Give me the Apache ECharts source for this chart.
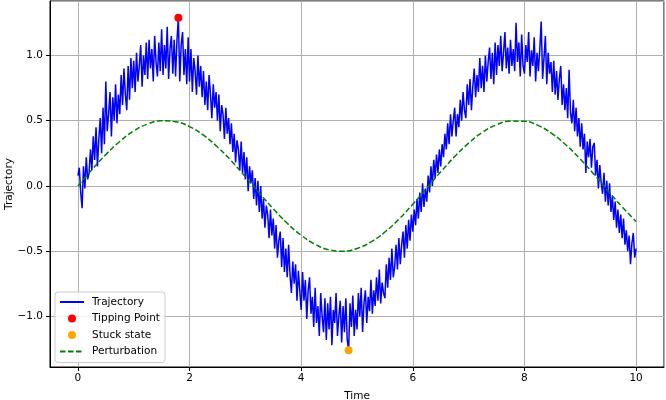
<!DOCTYPE html>
<html>
<head>
<meta charset="utf-8">
<script src="https://cdn.jsdelivr.net/npm/echarts@6/dist/echarts.min.js"></script>
<style>
html,body{margin:0;padding:0;background:#fff;}
#chart{width:666px;height:400px;}
</style>
</head>
<body>
<div id="chart"></div>
<script>
// Trajectory sampled every 0.025 time units from t = 0 to t = 10
const trajectoryStep = 0.025;
const trajectory = [
 0.08, 0.14,-0.05,-0.17, 0.15,-0.02, 0.22, 0.05, 0.10, 0.28,
 0.12, 0.38, 0.20, 0.45, 0.15, 0.36, 0.52, 0.25, 0.60, 0.32,
 0.80, 0.42, 0.55, 0.72, 0.38, 0.68, 0.50, 0.78, 0.48, 0.70,
 0.55, 0.85, 0.62, 0.90, 0.70, 0.58, 0.92, 0.66, 0.98, 0.75,
 0.96, 0.72, 1.02, 0.80, 0.92, 1.08, 0.76, 1.00, 0.85, 1.10,
 0.82, 1.12, 0.90, 1.05, 0.80, 1.15, 0.95, 0.84, 1.10, 0.88,
 1.20, 0.85, 1.08, 0.90, 1.22, 0.82, 1.05, 1.15, 0.86, 1.12,
 0.84, 1.12, 1.29, 0.80, 1.08, 1.18, 0.85, 1.05, 0.78, 1.14,
 0.80, 1.05, 0.72, 0.98, 0.88, 0.70, 1.00, 0.76, 0.92, 0.68,
 0.88, 0.62, 0.80, 0.58, 0.85, 0.70, 0.52, 0.78, 0.60, 0.72,
 0.50, 0.70, 0.42, 0.62, 0.55, 0.36, 0.60, 0.40, 0.52, 0.32,
 0.48, 0.26, 0.40, 0.18, 0.35, 0.28, 0.12, 0.34, 0.10, 0.26,
 0.05, 0.22,-0.04, 0.15, 0.02, 0.12,-0.10, 0.06,-0.15, 0.04,
-0.20, 0.00,-0.25,-0.10,-0.32,-0.15,-0.22,-0.40,-0.18,-0.38,
-0.25,-0.48,-0.30,-0.55,-0.42,-0.35,-0.62,-0.40,-0.66,-0.48,
-0.70,-0.45,-0.68,-0.82,-0.58,-0.75,-0.60,-0.88,-0.65,-0.80,
-0.95,-0.66,-0.88,-0.72,-1.02,-0.80,-0.70,-0.98,-0.85,-1.08,
-0.78,-1.05,-0.92,-1.15,-0.82,-1.00,-1.12,-0.86,-1.18,-0.90,
-1.10,-0.85,-1.22,-0.95,-1.05,-0.82,-1.15,-1.00,-0.88,-1.20,
-0.92,-1.12,-0.86,-1.18,-1.26,-0.90,-1.08,-0.84,-1.15,-0.95,
-1.10,-0.82,-1.00,-0.78,-1.12,-0.90,-0.80,-1.05,-0.85,-0.96,
-0.72,-0.98,-0.80,-0.92,-0.70,-0.88,-0.64,-0.90,-0.74,-0.82,
-0.86,-0.60,-0.78,-0.55,-0.72,-0.48,-0.70,-0.62,-0.45,-0.64,
-0.40,-0.60,-0.45,-0.35,-0.55,-0.30,-0.48,-0.26,-0.42,-0.22,
-0.35,-0.18,-0.30,-0.10,-0.25,-0.05,-0.20, 0.02,-0.16,-0.02,
-0.12, 0.08,-0.05, 0.15, 0.00, 0.20, 0.06, 0.24, 0.10, 0.28,
 0.15, 0.32, 0.22, 0.40, 0.28, 0.48, 0.32, 0.55, 0.38, 0.50,
 0.60, 0.38, 0.55, 0.45, 0.66, 0.50, 0.72, 0.58, 0.52, 0.78,
 0.62, 0.82, 0.58, 0.76, 0.90, 0.68, 0.85, 0.72, 0.98, 0.75,
 0.92, 0.72, 1.00, 0.80, 0.95, 1.06, 0.82, 1.02, 0.78, 1.10,
 0.85, 1.08, 0.92, 1.15, 0.88, 1.02, 1.18, 0.90, 1.06, 0.86,
 1.12, 0.92, 1.05, 0.88, 1.25, 0.95, 1.10, 0.84, 1.16, 0.92,
 0.86, 1.08, 0.95, 1.18, 0.84, 1.04, 0.92, 1.14, 0.80, 1.02,
 0.88, 1.05, 1.26, 0.82, 0.98, 1.15, 0.78, 1.02, 0.86, 0.95,
 0.72, 0.96, 0.70, 0.88, 0.66, 0.82, 0.92, 0.62, 0.78, 0.58,
 0.75, 0.52, 0.89, 0.56, 0.48, 0.66, 0.42, 0.60, 0.38, 0.52,
 0.30, 0.48, 0.28, 0.40, 0.10, 0.34, 0.22, 0.36, 0.14, 0.30,
 0.33, 0.08, 0.20,-0.02, 0.16, 0.02,-0.06, 0.10,-0.12, 0.04,
-0.15, 0.02,-0.20,-0.08,-0.26,-0.12,-0.32,-0.18,-0.36,-0.22,
-0.40,-0.25,-0.45,-0.34,-0.50,-0.38,-0.60,-0.44,-0.36,-0.55,
-0.48
];
// Perturbation sampled every 0.25 time units from t = 0 to t = 10
const perturbationStep = 0.25;
const perturbation = [
 0.000, 0.124, 0.240, 0.341, 0.421, 0.474, 0.499, 0.492, 0.455, 0.389,
 0.299, 0.191, 0.071,-0.054,-0.175,-0.286,-0.378,-0.447,-0.489,-0.500,
-0.479,-0.429,-0.353,-0.255,-0.140,-0.017, 0.108, 0.225, 0.328, 0.412,
 0.469, 0.497, 0.495, 0.462, 0.399, 0.312, 0.206, 0.087,-0.038,-0.160,
-0.272
];
const tippingPoint = [1.8, 1.29];
const stuckState = [4.85, -1.26];
const xTicks = [0, 2, 4, 6, 8, 10];
const yTicks = [-1.0, -0.5, 0.0, 0.5, 1.0];

const trajData = trajectory.map((v, i) => [+(i * trajectoryStep).toFixed(3), v]);
const pertData = perturbation.map((v, i) => [+(i * perturbationStep).toFixed(3), v]);

const font = 'DejaVu Sans';
const fs = 10.5;
const fmtY = v => yTicks.some(t => Math.abs(t - v) < 1e-6) ? v.toFixed(1).replace('-', '\u2212') : '';
const fmtX = v => xTicks.some(t => Math.abs(t - v) < 1e-6) ? String(v) : '';

const chart = echarts.init(document.getElementById('chart'), null, {renderer: 'canvas'});
chart.setOption({
  animation: false,
  backgroundColor: '#fff',
  grid: {left: 50, right: 2, top: 1, bottom: 33, show: true, borderColor: '#000', borderWidth: 1,
         containLabel: false, outerBoundsMode: 'none'},
  xAxis: {
    type: 'value', min: -0.5, max: 10.5, splitNumber: 5,
    name: 'Time', nameLocation: 'middle', nameGap: 24, nameMoveOverlap: false,
    nameTextStyle: {fontFamily: font, fontSize: fs, color: '#000'},
    axisLine: {show: true, onZero: false, lineStyle: {color: '#000', width: 1}},
    axisTick: {show: true, length: 4, lineStyle: {color: '#000'}},
    axisLabel: {formatter: fmtX, fontFamily: font, fontSize: fs, color: '#000', margin: 6, showMinLabel: false, showMaxLabel: false},
    splitLine: {show: true, lineStyle: {color: '#b0b0b0', width: 1}}
  },
  yAxis: {
    type: 'value', min: -1.3875, max: 1.4175, splitNumber: 5,
    name: 'Trajectory', nameLocation: 'middle', nameGap: 35, nameRotate: 90, nameMoveOverlap: false,
    nameTextStyle: {fontFamily: font, fontSize: fs, color: '#000'},
    axisLine: {show: true, onZero: false, lineStyle: {color: '#000', width: 1}},
    axisTick: {show: true, length: 4, lineStyle: {color: '#000'}},
    axisLabel: {formatter: fmtY, fontFamily: font, fontSize: fs, color: '#000', margin: 7, showMinLabel: false, showMaxLabel: false},
    splitLine: {show: true, lineStyle: {color: '#b0b0b0', width: 1}}
  },
  legend: {
    left: 55, top: 292, orient: 'vertical',
    backgroundColor: 'rgba(255,255,255,0.85)', borderColor: '#cccccc', borderWidth: 1, borderRadius: 3,
    padding: [4, 5, 5, 4], itemWidth: 24, itemHeight: 8, itemGap: 4.5,
    textStyle: {fontFamily: font, fontSize: fs, color: '#000', lineHeight: 12, padding: [0, 0, 0, 3]},
    data: [
      {name: 'Trajectory', itemStyle: {opacity: 0}},
      {name: 'Tipping Point', icon: 'circle'},
      {name: 'Stuck state', icon: 'circle'},
      {name: 'Perturbation', itemStyle: {opacity: 0}}
    ]
  },
  series: [
    {name: 'Trajectory', type: 'line', data: trajData, showSymbol: false, symbol: 'none',
     lineStyle: {color: '#0000ff', width: 1.5}, itemStyle: {color: '#0000ff'}, z: 2},
    {name: 'Tipping Point', type: 'scatter', data: [tippingPoint], symbolSize: 8,
     itemStyle: {color: '#ff0000', opacity: 1}, z: 3},
    {name: 'Stuck state', type: 'scatter', data: [stuckState], symbolSize: 8,
     itemStyle: {color: '#ffa500', opacity: 1}, z: 3},
    {name: 'Perturbation', type: 'line', data: pertData, showSymbol: false, symbol: 'none', smooth: true,
     lineStyle: {color: '#008000', width: 1.5, type: [5.5, 2.5]}, itemStyle: {color: '#008000'}, z: 2}
  ]
});
</script>
</body>
</html>
